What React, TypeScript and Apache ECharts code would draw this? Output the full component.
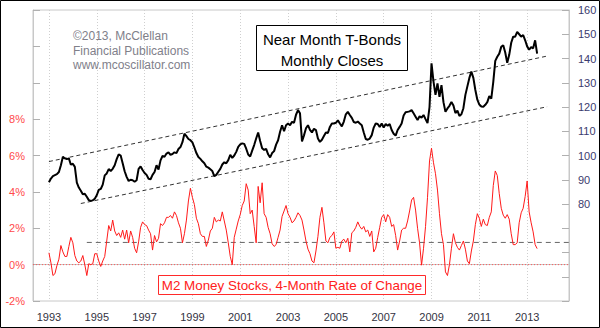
import { useEffect, useRef } from "react";
import * as echarts from "echarts";

// ---- categories (monthly, May 1992 .. Oct 2014) ----
const months: string[] = [];
for (let y = 1992; y <= 2014; y++) {
  for (let m = 1; m <= 12; m++) {
    if (y === 1992 && m < 5) continue;
    if (y === 2014 && m > 10) continue;
    months.push(`${y}-${String(m).padStart(2, "0")}`);
  }
}

// ---- Near Month T-Bonds, monthly closes (right axis) ----
const bonds1993 = [89, 90.5, 91.5, 91.9, 92.3, 93.2, 96, 99.5, 98.8, 98.5, 98.8, 96.2];
const bonds1994 = [96.6, 95.3, 88.8, 86.8, 85.5, 84, 84.2, 83, 81.6, 81.3, 81.5, 82.2];
const bonds1995 = [83.6, 85.8, 86.2, 88, 91.8, 92.6, 94.4, 93.6, 94.5, 96, 98.5, 100.5];
const bonds1996 = [100, 96.8, 93.5, 91.2, 89.5, 90, 89.8, 89.2, 89.8, 94.5, 95.5, 94];
const bonds1997 = [92.8, 92, 90.4, 90.2, 92, 93.2, 96, 94.2, 98, 99.8, 99.5, 100.8];
const bonds1998 = [101.3, 100.3, 100.6, 101.3, 101, 102.7, 103.5, 105.5, 109, 108, 106.8, 106.3];
const bonds1999 = [105.4, 103.3, 101, 99.4, 98.6, 97.6, 96.8, 95.4, 95, 94.3, 93.6, 91.5];
const bonds2000 = [92, 93.3, 94.5, 96.3, 97.2, 96.8, 98.1, 100.3, 99, 100, 101.5, 103.6];
const bonds2001 = [104.6, 105, 104.8, 102.8, 100.4, 99.6, 102, 104.3, 107, 109.5, 106, 103];
const bonds2002 = [102.3, 102.7, 100.5, 99.2, 101, 101.8, 104.5, 106.3, 109.8, 112.5, 110, 112.5];
const bonds2003 = [113.2, 112.5, 113.9, 113.5, 116.8, 118.7, 117.4, 105.8, 108.3, 111.2, 112.5, 110.6];
const bonds2004 = [109.5, 111, 110.5, 107, 105.6, 106.5, 108, 109.5, 109.3, 111.8, 113.2, 113.2];
const bonds2005 = [113.5, 114.5, 113.2, 112, 114, 117, 118, 116.7, 115.5, 113.8, 113.5, 114];
const bonds2006 = [113.2, 112.5, 109.5, 106.8, 106.5, 107, 108.4, 111.5, 113.2, 113, 111.8, 113.2];
const bonds2007 = [111.5, 113, 112.3, 113, 110.5, 109, 108.2, 110.5, 111.8, 113.2, 116.5, 117.8];
const bonds2008 = [118, 118.2, 118.7, 117.4, 116, 114.6, 116.2, 115.6, 116.7, 115, 113.4, 120];
const bonds2009 = [138, 130.5, 125, 129.7, 124.2, 129, 122, 118, 119.4, 120.5, 122.1, 120.6];
const bonds2010 = [117.5, 118.5, 116.3, 117, 119.5, 125, 128.5, 132, 134.6, 132, 127, 123];
const bonds2011 = [121, 120.2, 120.1, 120.9, 122, 124.5, 123.5, 130.4, 139, 140.7, 142, 144.8];
const bonds2012 = [145.5, 142.5, 138.2, 141.5, 146.5, 149, 149, 151, 150, 149, 149.7, 147.5];
const bonds2013 = [145, 143.6, 144.7, 144.2, 147.5, 142];

// ---- M2 Money Stocks, 4-month rate of change, % (left axis) ----
const m2_1993 = [0.65, 0.1, -0.6, -0.5, -0.05, 0.3, 1.05, 0.7, 0.45, 0.45, 1.0, 1.5];
const m2_1994 = [1.2, 0.5, 0.2, 0.1, 0.2, 0.5, 0.0, -0.6, 0.05, 0.0, 0.05, 0.6];
const m2_1995 = [0.6, 0.2, -0.1, 0.2, 0.45, 1.3, 2.15, 1.85, 2.45, 1.85, 1.6, 1.75];
const m2_1996 = [1.5, 1.9, 1.4, 1.9, 1.2, 1.85, 1.5, 0.9, 0.65, 1.25, 2.05, 2.35];
const m2_1997 = [2.2, 2.15, 1.9, 1.7, 0.8, 1.6, 1.25, 1.45, 2.25, 2.15, 2.3, 2.6];
const m2_1998 = [2.6, 2.7, 2.55, 2.9, 2.7, 2.3, 2.0, 1.2, 1.7, 2.45, 3.5, 4.2];
const m2_1999 = [3.7, 3.3, 2.55, 2.25, 1.7, 1.55, 1.55, 1.0, 1.35, 1.85, 2.0, 2.6];
const m2_2000 = [2.35, 2.45, 2.4, 2.9, 2.4, 1.9, 1.2, 0.45, 0.0, 1.5, 1.95, 2.4];
const m2_2001 = [2.75, 3.25, 3.5, 4.45, 4.1, 2.8, 3.0, 2.1, 1.2, 4.3, 3.4, 4.5];
const m2_2002 = [2.8, 2.6, 2.05, 1.7, 1.15, 1.0, 1.1, 1.5, 1.9, 2.65, 2.95, 3.25];
const m2_2003 = [2.8, 2.6, 2.3, 2.4, 2.6, 2.85, 2.7, 2.45, 1.9, 1.3, 0.85, 0.6];
const m2_2004 = [0.2, 0.1, 0.75, 1.55, 2.6, 3.15, 2.3, 1.3, 1.2, 1.5, 1.6, 1.8];
const m2_2005 = [0.9, 0.95, 0.9, 1.3, 1.4, 1.2, 1.45, 0.7, 1.75, 1.85, 2.05, 2.35];
const m2_2006 = [2.1, 1.95, 2.1, 1.8, 1.9, 1.55, 1.85, 0.7, 0.9, 1.5, 2.05, 2.6];
const m2_2007 = [2.75, 2.35, 2.75, 2.6, 2.1, 2.2, 1.6, 0.8, 1.3, 1.9, 2.0, 2.0];
const m2_2008 = [2.4, 2.95, 3.55, 3.7, 3.0, 2.0, 1.2, -0.03, 0.9, 2.1, 3.7, 5.7];
const m2_2009 = [6.4, 5.6, 5.0, 4.1, 2.8, 1.7, 1.1, -0.4, -0.6, 0.0, 0.9, 1.7];
const m2_2010 = [1.2, 0.95, 0.8, 1.05, 1.3, 0.85, 0.2, 0.05, 0.75, 1.3, 2.2, 2.8];
const m2_2011 = [2.55, 2.1, 2.5, 2.2, 2.15, 2.6, 2.9, 4.35, 5.15, 4.9, 3.9, 3.1];
const m2_2012 = [2.72, 2.55, 2.75, 2.5, 1.7, 1.1, 1.1, 1.2, 2.3, 2.85, 3.1, 3.75];
const m2_2013 = [4.6, 2.9, 2.3, 1.8, 1.1, 0.88];

// ---- reference lines ----
const upperChannel: [string, number][] = [["1993-01", 97.5], ["2013-11", 141]];
const lowerChannel: [string, number][] = [["1994-05", 80.2], ["2013-11", 120.1]];
const m2Average: [string, number][] = [["1994-08", 1.22], ["2014-10", 1.22]];
const zeroLine: [string, number][] = [["1992-05", 0], ["2014-10", 0]];

// ---- tick labels ----
const leftTickLabels = [-2, 0, 2, 4, 6, 8];
const rightTickLabels = [80, 90, 100, 110, 120, 130, 140, 150, 160];

const bondsByYear: [number, number[]][] = [
  [1993, bonds1993], [1994, bonds1994], [1995, bonds1995], [1996, bonds1996],
  [1997, bonds1997], [1998, bonds1998], [1999, bonds1999], [2000, bonds2000],
  [2001, bonds2001], [2002, bonds2002], [2003, bonds2003], [2004, bonds2004],
  [2005, bonds2005], [2006, bonds2006], [2007, bonds2007], [2008, bonds2008],
  [2009, bonds2009], [2010, bonds2010], [2011, bonds2011], [2012, bonds2012],
  [2013, bonds2013],
];
const m2ByYear: [number, number[]][] = [
  [1993, m2_1993], [1994, m2_1994], [1995, m2_1995], [1996, m2_1996],
  [1997, m2_1997], [1998, m2_1998], [1999, m2_1999], [2000, m2_2000],
  [2001, m2_2001], [2002, m2_2002], [2003, m2_2003], [2004, m2_2004],
  [2005, m2_2005], [2006, m2_2006], [2007, m2_2007], [2008, m2_2008],
  [2009, m2_2009], [2010, m2_2010], [2011, m2_2011], [2012, m2_2012],
  [2013, m2_2013],
];

function toPairs(byYear: [number, number[]][]) {
  const out: [string, number][] = [];
  for (const [y, arr] of byYear) {
    arr.forEach((v, i) => out.push([`${y}-${String(i + 1).padStart(2, "0")}`, v]));
  }
  return out;
}

const FONT = '"Liberation Sans", Arial, sans-serif';

const isLabelMonth = (_i: number, value: string) => {
  const [y, m] = String(value).split("-");
  return m === "01" && Number(y) % 2 === 1;
};

export default function App() {
  const ref = useRef<HTMLDivElement>(null);
  useEffect(() => {
    if (!ref.current) return;
    const chart = echarts.init(ref.current, undefined, { renderer: "svg" });
    const txt = (text: string, x: number, y: number, font: string, fill: string, align = "left") => ({
      type: "text",
      x,
      y,
      style: {
        text,
        font,
        fill,
        align,
        verticalAlign: "middle",
        textAlign: align,
        textVerticalAlign: "middle",
      },
      z: 100,
    });
    chart.setOption({
      animation: false,
      backgroundColor: "#fff",
      grid: {
        left: 33,
        right: 31,
        top: 10,
        bottom: 27,
        show: true,
        borderColor: "#c8c8c8",
        borderWidth: 1,
        backgroundColor: "transparent",
      },
      xAxis: {
        type: "category",
        data: months,
        boundaryGap: false,
        axisLine: { show: true, lineStyle: { color: "#c8c8c8" } },
        axisTick: { show: false },
        axisLabel: {
          interval: isLabelMonth,
          formatter: (v: string) => v.slice(0, 4),
          color: "#33333f",
          fontFamily: FONT,
          fontSize: 11,
          margin: 10,
          hideOverlap: false,
        },
        splitLine: {
          show: true,
          interval: isLabelMonth,
          lineStyle: { color: "#cfcfcf", type: [1, 2], width: 1 },
        },
      },
      yAxis: [
        {
          type: "value",
          position: "left",
          min: -2,
          max: 14,
          interval: 2,
          axisLine: { show: true, lineStyle: { color: "#c8c8c8" } },
          axisTick: { show: true, inside: true, length: 7, lineStyle: { color: "#b0b0b0" } },
          axisLabel: {
            formatter: (v: number) => (leftTickLabels.includes(v) ? `${v}%` : ""),
            color: "#ff4a4a",
            fontFamily: FONT,
            fontSize: 11,
            margin: 8,
          },
          splitLine: { show: false },
        },
        {
          type: "value",
          position: "right",
          min: 40,
          max: 160,
          interval: 10,
          axisLine: { show: true, lineStyle: { color: "#c8c8c8" } },
          axisTick: { show: true, inside: true, length: 7, lineStyle: { color: "#b0b0b0" } },
          axisLabel: {
            formatter: (v: number) => (rightTickLabels.includes(v) ? `${v}` : ""),
            color: "#3b3b6e",
            fontFamily: FONT,
            fontSize: 11,
            margin: 9,
          },
          splitLine: { show: false },
        },
      ],
      series: [
        {
          name: "zero",
          type: "line",
          yAxisIndex: 0,
          data: zeroLine,
          symbol: "none",
          silent: true,
          lineStyle: { color: "#ff5a5a", width: 1, type: [1, 2] },
          z: 1,
        },
        {
          name: "avg",
          type: "line",
          yAxisIndex: 0,
          data: m2Average,
          symbol: "none",
          silent: true,
          lineStyle: { color: "#666", width: 1, type: [5, 4] },
          z: 1,
        },
        {
          name: "upper",
          type: "line",
          yAxisIndex: 1,
          data: upperChannel,
          symbol: "none",
          silent: true,
          lineStyle: { color: "#333", width: 1, type: [4, 3] },
          z: 1,
        },
        {
          name: "lower",
          type: "line",
          yAxisIndex: 1,
          data: lowerChannel,
          symbol: "none",
          silent: true,
          lineStyle: { color: "#333", width: 1, type: [4, 3] },
          z: 1,
        },
        {
          name: "M2 Money Stocks, 4-Month Rate of Change",
          type: "line",
          yAxisIndex: 0,
          data: toPairs(m2ByYear),
          symbol: "none",
          lineStyle: { color: "#ff1a1a", width: 1 },
          z: 3,
        },
        {
          name: "Near Month T-Bonds",
          type: "line",
          yAxisIndex: 1,
          data: toPairs(bondsByYear),
          symbol: "none",
          lineStyle: { color: "#000", width: 2 },
          z: 4,
        },
      ],
      graphic: [
        {
          type: "rect",
          shape: { x: 0.5, y: 0.5, width: 599, height: 327 },
          style: { fill: "none", stroke: "#000", lineWidth: 1 },
          z: 100,
        },
        txt("©2013, McClellan", 73, 36, `12px ${FONT}`, "#80808a"),
        txt("Financial Publications", 73, 51, `12px ${FONT}`, "#80808a"),
        txt("www.mcoscillator.com", 73, 65, `12px ${FONT}`, "#80808a"),
        {
          type: "rect",
          shape: { x: 256.5, y: 25.5, width: 151, height: 45 },
          style: { fill: "#fff", stroke: "#000", lineWidth: 1 },
          z: 90,
        },
        txt("Near Month T-Bonds", 332, 39, `15px ${FONT}`, "#000", "center"),
        txt("Monthly Closes", 332, 60, `15px ${FONT}`, "#000", "center"),
        {
          type: "rect",
          shape: { x: 158.5, y: 275.5, width: 267, height: 19 },
          style: { fill: "#fff", stroke: "#ff2a2a", lineWidth: 1 },
          z: 90,
        },
        txt("M2 Money Stocks, 4-Month Rate of Change", 292, 285.5, `13.4px ${FONT}`, "#ff2020", "center"),
      ],
    });
    return () => chart.dispose();
  }, []);
  return (
    <div
      ref={ref}
      style={{ position: "absolute", left: 0, top: 0, width: 600, height: 328, background: "#fff" }}
    />
  );
}
